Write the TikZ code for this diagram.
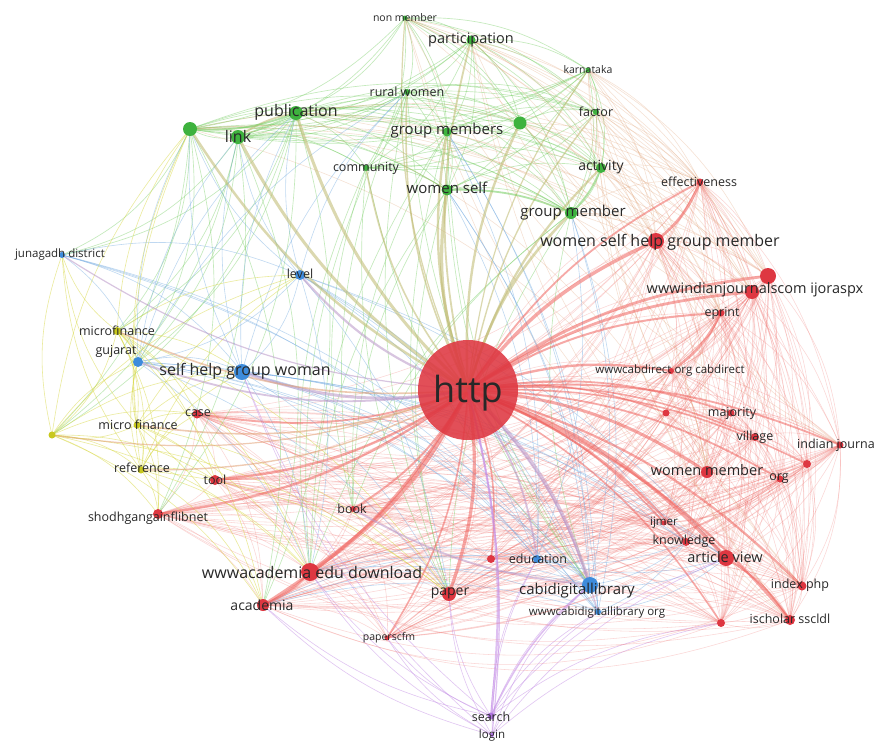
\documentclass[tikz,border=0pt]{standalone}
\usepackage{fontspec}
\setmainfont{Open Sans}
\definecolor{cGreen}{RGB}{62,178,62}
\definecolor{cRed}{RGB}{222,55,65}
\definecolor{cBlue}{RGB}{62,140,220}
\definecolor{cYel}{RGB}{200,200,30}
\definecolor{cPur}{RGB}{175,115,225}
\definecolor{eGreen}{RGB}{115,205,95}
\definecolor{eRed}{RGB}{240,100,95}
\definecolor{eBlue}{RGB}{115,170,225}
\definecolor{eYel}{RGB}{215,215,60}
\definecolor{ePur}{RGB}{195,140,230}
\definecolor{eTan}{RGB}{190,185,110}
\definecolor{eMix}{RGB}{225,160,115}
\definecolor{eBR}{RGB}{185,150,200}
\definecolor{txt}{RGB}{40,40,40}
\newcommand\mypairs[3]{%
  \foreach \pa [count=\pi] in {#3}{%
    \foreach \pb [count=\pj] in {#3}{%
      \ifnum\pj>\pi \draw[#1] (\pa) to[bend left=#2] (\pb);\fi}}}
\newcommand\mycross[4]{%
  \foreach \pa in {#3}{\foreach \pb in {#4}{\draw[#1] (\pa) to[bend left=#2] (\pb);}}}
\begin{document}
\begin{tikzpicture}[x=1pt,y=-1pt,
  lbl/.style={text=txt,inner sep=0pt,font=\fontsize{#1}{#1}\selectfont},
  dot/.style={circle,fill=#1,inner sep=0pt,draw=none},
  ge/.style={draw=eGreen,opacity=.42,line width=.65pt},
  re/.style={draw=eRed,opacity=.26,line width=.55pt},
  be/.style={draw=eBlue,opacity=.45,line width=.6pt},
  ye/.style={draw=eYel,opacity=.5,line width=.6pt},
  pe/.style={draw=ePur,opacity=.5,line width=.6pt},
  me/.style={draw=eMix,opacity=.32,line width=.55pt},
  spoke/.style={opacity=.55,line width=#1}]
\useasboundingbox (0,0) rectangle (877,742);
\fill[white] (0,0) rectangle (877,742);
% ---------- coordinates ----------
\coordinate (http) at (468,390);
\coordinate (gA) at (405,18);  \coordinate (gB) at (471,40);
\coordinate (gC) at (588,70);  \coordinate (gD) at (407,92);
\coordinate (gE) at (296,113); \coordinate (gF) at (238,137);
\coordinate (gG) at (190,129); \coordinate (gH) at (447,132);
\coordinate (gI) at (520,123); \coordinate (gJ) at (596,112);
\coordinate (gK) at (366,168); \coordinate (gL) at (447,190);
\coordinate (gM) at (601,168); \coordinate (gN) at (571,213);
\coordinate (rA) at (700,182); \coordinate (rB) at (656,241);
\coordinate (rC) at (768,276); \coordinate (rD) at (752,292);
\coordinate (rE) at (721,313); \coordinate (rF) at (671,371);
\coordinate (rG) at (666,413); \coordinate (rH) at (731,413);
\coordinate (rI) at (755,437); \coordinate (rJ) at (840,445);
\coordinate (rK) at (807,464); \coordinate (rL) at (707,472);
\coordinate (rM) at (780,479); \coordinate (rN) at (197,414);
\coordinate (rO) at (215,480); \coordinate (rP) at (158,514);
\coordinate (rQ) at (353,509); \coordinate (rR) at (310,572);
\coordinate (rS) at (263,605); \coordinate (rT) at (387,638);
\coordinate (rU) at (449,594); \coordinate (rV) at (491,559);
\coordinate (rW) at (664,523); \coordinate (rX) at (686,542);
\coordinate (rY) at (726,558); \coordinate (rZ) at (802,586);
\coordinate (rAA) at (790,620); \coordinate (rAB) at (721,623);
\coordinate (bA) at (62,255);  \coordinate (bB) at (300,275);
\coordinate (bC) at (138,362); \coordinate (bD) at (242,372);
\coordinate (bE) at (537,559); \coordinate (bF) at (590,585);
\coordinate (bG) at (598,612);
\coordinate (yA) at (117,331); \coordinate (yB) at (137,425);
\coordinate (yC) at (52,435);  \coordinate (yD) at (141,470);
\coordinate (pA) at (491,716); \coordinate (pB) at (492,735);
% ---------- edges ----------
\mypairs{re}{18}{http,rA,rB,rC,rD,rE,rF,rG,rH,rI,rJ,rK,rL,rM,rN,rO,rP,rQ,rR,rS,rT,rU,rV,rW,rX,rY,rZ,rAA,rAB}
\mypairs{ge}{18}{gA,gB,gC,gD,gE,gF,gG,gH,gI,gJ,gK,gL,gM,gN}
\mycross{me}{18}{gA,gB,gC,gG,gI,gJ,gM,gN,gE}{rA,rB,rC,rD,rE,rL}
\mycross{ge}{20}{gG,gF,gE}{bA,bC,yA,yC,rS,rP}
\mycross{me}{-18}{gA,gB,gC,gJ}{rJ,rZ,rAA}
\mycross{ge}{-16}{gH,gL,gN,gK,gD}{rU,rR,bF,rQ}
\mypairs{be}{18}{bA,bB,bC,bD,bE,bF,bG}
\mycross{be}{15}{bD,bB,bC}{gF,gE,gG,gD,rU,rR,rX,rY}
\mycross{be}{-15}{bF,bG,bE}{gL,gN,gH,rY,rX,rS,rR}
\mypairs{ye}{18}{yA,yB,yC,yD}
\mycross{ye}{16}{yA,yB,yC,yD}{bA,bC,bD,rN,rO,rP,rS,rR,gG,bB,rU}
\mycross{pe}{14}{pA,pB}{bF,bE,rU,rR,rS,rT,bD,rY,rAB,bG}
\mycross{re}{-22}{rN,rO,rP,rS}{rJ,rZ,rAA,rAB}
% spokes from http
\foreach \n/\w in {gE/3,gF/3,gG/2.5,gL/3.2,gN/2.6,gH/2.4,gI/2.4,gB/1.8,gM/2.2,gD/1.6,gK/1.6,gJ/1.4,gC/1.2,gA/1.2}
  \draw[spoke=\w pt,draw=eTan] (http) to[bend left=14] (\n);
\foreach \n/\w in {rB/3.4,rC/2.8,rD/2.8,rE/2,rA/1.8,rR/4.2,rS/2.8,rU/3.2,rY/3.4,rL/3,rP/2.4,rO/2.4,rN/1.8,rQ/2,rT/1.6,rW/1.6,rX/2.2,rZ/2.2,rAA/2.2,rJ/1.8,rM/1.8,rH/1.8,rI/1.6,rF/2.4,rG/1.4,rK/1.6,rV/1.6,rAB/1.6}
  \draw[spoke=\w pt,draw=eRed] (http) to[bend left=14] (\n);
\foreach \n/\w in {bD/3,bF/3.2,bB/2.2,bC/1.8,bE/1.8,bG/1.4,bA/1.2}
  \draw[spoke=\w pt,draw=eBR] (http) to[bend left=14] (\n);
\foreach \n/\w in {yA/1.6,yB/1.6,yC/1.2,yD/1.4}
  \draw[spoke=\w pt,draw=eMix] (http) to[bend left=14] (\n);
\draw[spoke=2.2pt,draw=ePur] (http) to[bend left=10] (pA);
\draw[spoke=1.2pt,draw=ePur] (http) to[bend left=10] (pB);
% a few thick extra links
\draw[spoke=2.5pt,draw=eRed] (rE) to[bend left=14] (rF);
\draw[spoke=2.5pt,draw=eRed] (rA) to[bend left=14] (rB);
\draw[spoke=2pt,draw=eRed] (rY) to[bend left=12] (rAA);
\draw[spoke=2pt,draw=eRed] (rR) to[bend left=12] (rS);
\draw[spoke=1.8pt,draw=eBR] (bF) to[bend left=12] (rQ);
\draw[spoke=1.8pt,draw=eTan] (gF) to[bend left=12] (gE);
\draw[spoke=1.8pt,draw=eGreen] (gE) to[bend left=12] (gG);
\draw[spoke=1.8pt,draw=eGreen] (gL) to[bend left=12] (gN);
\draw[spoke=1.8pt,draw=eGreen] (gM) to[bend left=12] (gN);
\draw[spoke=1.5pt,draw=ePur] (pA) to[bend left=12] (bF);
% ---------- node circles ----------
\node[dot=cRed,minimum size=100pt,fill opacity=.88] (httpc) at (http) {};
\foreach \n/\s in {gA/5,gB/9,gC/5,gD/6,gE/14,gF/14,gG/14,gH/9,gI/13,gJ/6,gK/6,gL/11,gM/10,gN/12}
  \node[dot=cGreen,minimum size=\s pt] (\n c) at (\n) {};
\foreach \n/\s in {rA/7,rB/16,rC/16,rD/14,rE/7,rF/6,rG/7,rH/7,rI/8,rJ/7,rK/8,rL/12,rM/7,rN/9,rO/10,rP/10,rQ/6,rR/18,rS/12,rT/5,rU/14,rV/8,rW/5,rX/8,rY/16,rZ/9,rAA/10,rAB/8}
  \node[dot=cRed,minimum size=\s pt] (\n c) at (\n) {};
\foreach \n/\s in {bA/6,bB/10,bC/10,bD/16,bE/8,bF/16,bG/6}
  \node[dot=cBlue,minimum size=\s pt] (\n c) at (\n) {};
\foreach \n/\s in {yA/8,yB/7,yC/7,yD/7}
  \node[dot=cYel,minimum size=\s pt] (\n c) at (\n) {};
\node[dot=cPur,minimum size=7pt] (pAc) at (pA) {};
\node[dot=cPur,minimum size=4pt] (pBc) at (pB) {};
% ---------- labels ----------
\node[lbl=36] (httpl) at (468,393) {http};
\node[lbl=10.5] (l1) at (405,18) {non member};
\node[lbl=14.5] (l2) at (471,40) {participation};
\node[lbl=10.5] (l3) at (588,70) {karnataka};
\node[lbl=12.5] (l4) at (407,92) {rural women};
\node[lbl=16] (l5) at (296,112) {publication};
\node[lbl=16] (l6) at (238,136) {link};
\node[lbl=15] (l7) at (447,131) {group members};
\node[lbl=12.5] (l8) at (596,112) {factor};
\node[lbl=12.5] (l9) at (366,168) {community};
\node[lbl=15] (l10) at (447,188) {women self};
\node[lbl=14] (l11) at (601,167) {activity};
\node[lbl=15] (l12) at (573,213) {group member};
\node[lbl=12.5] (l13) at (699,182) {effectiveness};
\node[lbl=16] (l14) at (660,242) {women self help group member};
\node[lbl=14.5] (l15) at (755,290) {wwwindianjournalscom ijoraspx};
\node[lbl=12.5] (l16) at (722,313) {eprint};
\node[lbl=11.5] (l17) at (670,371) {wwwcabdirect org cabdirect};
\node[lbl=12.5] (l18) at (732,413) {majority};
\node[lbl=12.5] (l19) at (755,437) {village};
\node[lbl=12.5,anchor=west] (l20) at (797,445) {indian journa};
\node[lbl=14.5] (l21) at (707,470) {women member};
\node[lbl=12.5] (l22) at (779,479) {org};
\node[lbl=11.5] (l23) at (60,255) {junagadh district};
\node[lbl=12.5] (l24) at (300,274) {level};
\node[lbl=12.5] (l25) at (117,331) {microfinance};
\node[lbl=12.5] (l26) at (116,351) {gujarat};
\node[lbl=16] (l27) at (245,371) {self help group woman};
\node[lbl=12.5] (l28) at (198,413) {case};
\node[lbl=12.5] (l29) at (138,425) {micro finance};
\node[lbl=12.5] (l30) at (142,468) {reference};
\node[lbl=12.5] (l31) at (215,480) {tool};
\node[lbl=12.5] (l32) at (148,518) {shodhgangainflibnet};
\node[lbl=12.5] (l33) at (352,509) {book};
\node[lbl=16] (l34) at (312,572) {wwwacademia edu download};
\node[lbl=14] (l35) at (262,605) {academia};
\node[lbl=10.5] (l36) at (389,638) {paperscfm};
\node[lbl=14] (l37) at (450,593) {paper};
\node[lbl=12.5] (l38) at (538,559) {education};
\node[lbl=15] (l39) at (577,591) {cabidigitallibrary};
\node[lbl=11.5] (l40) at (597,613) {wwwcabidigitallibrary org};
\node[lbl=11.5] (l41) at (664,523) {ijmer};
\node[lbl=12.5] (l42) at (684,541) {knowledge};
\node[lbl=14.5] (l43) at (725,557) {article view};
\node[lbl=12.5] (l44) at (800,585) {index php};
\node[lbl=12.5] (l45) at (790,619) {ischolar sscldl};
\node[lbl=12.5] (l46) at (491,717) {search};
\node[lbl=11.5] (l47) at (492,735) {login};
\end{tikzpicture}
\end{document}
